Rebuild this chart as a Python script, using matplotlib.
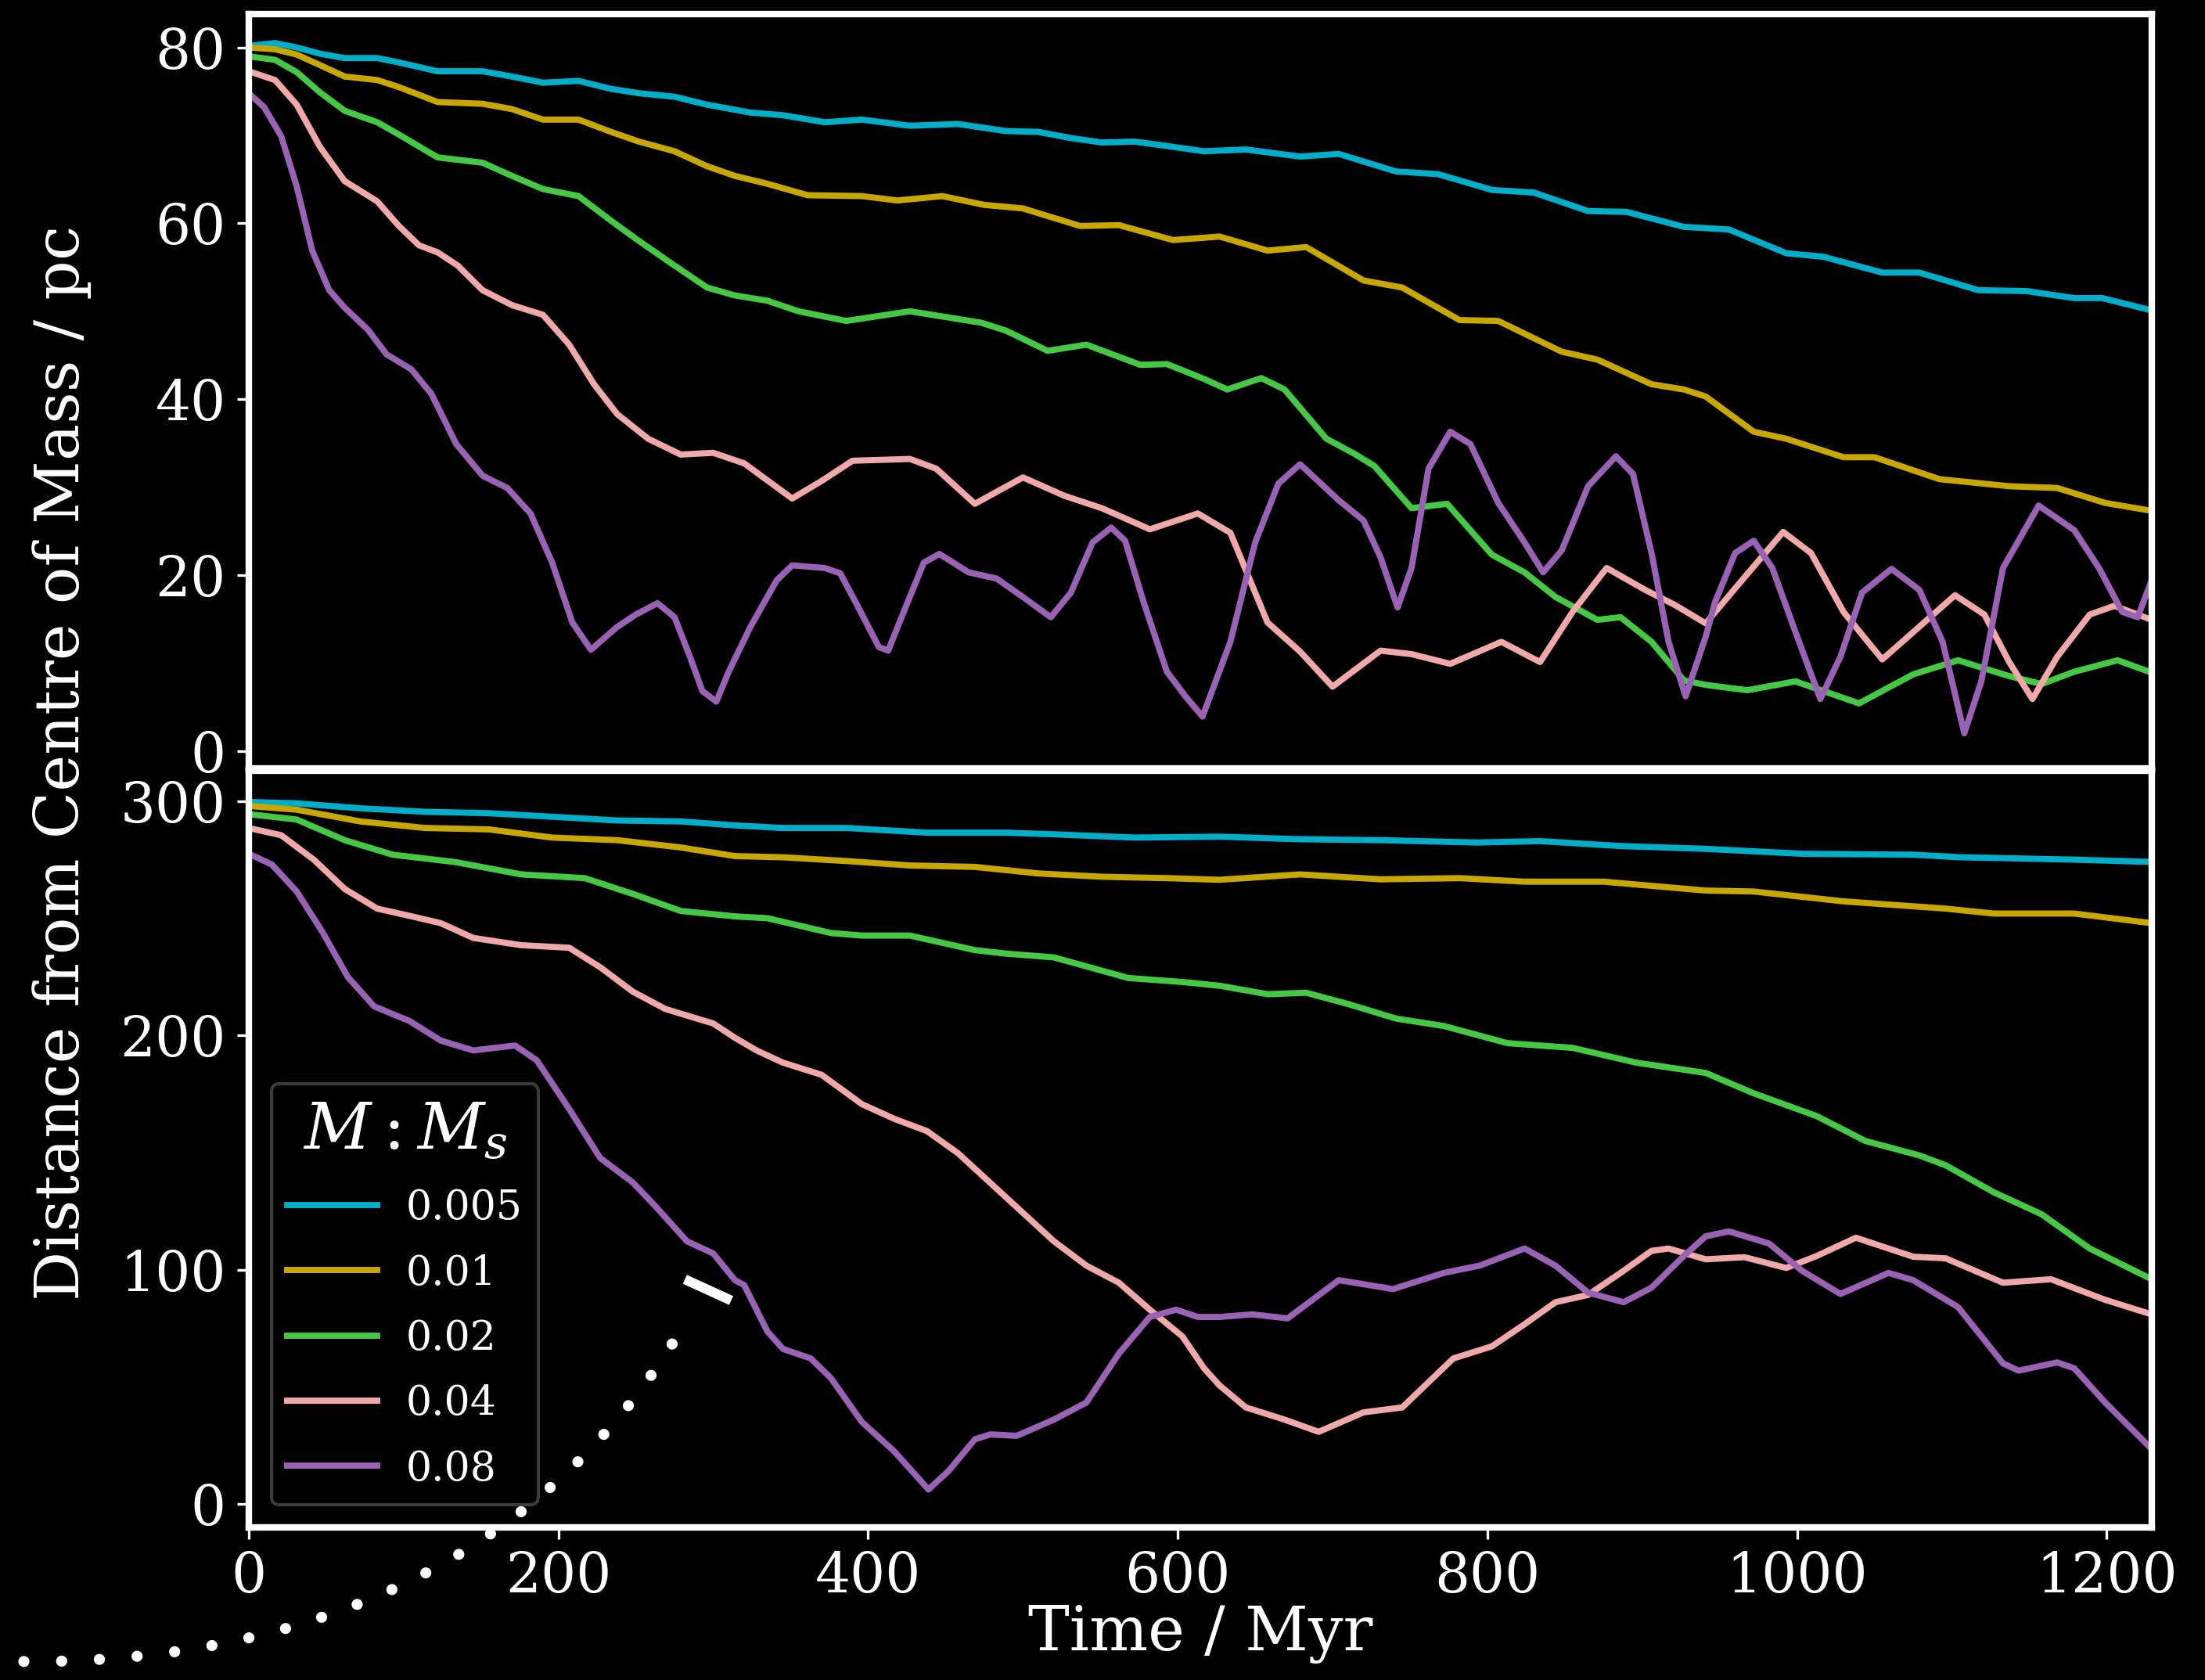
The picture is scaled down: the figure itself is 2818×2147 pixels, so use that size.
import matplotlib
matplotlib.use("Agg")
import matplotlib.pyplot as plt
from matplotlib.path import Path
from matplotlib.patches import PathPatch
from matplotlib.lines import Line2D

# --- data (time in Myr, distance in pc) ---
ratios = ["0.005", "0.01", "0.02", "0.04", "0.08"]
colours = ["#00aec9", "#c8a800", "#45c945", "#f0a8a8", "#9a62b4"]

# upper panel: start at ~80 pc
top_t_005 = [0, 17, 31, 46, 62, 83, 97, 122, 151, 170, 190, 213, 234, 252, 275, 296,
             324, 345, 372, 396, 427, 458, 489, 510, 531, 551, 572, 593, 617, 644, 679,
             704, 741, 768, 803, 830, 865, 890, 927, 956, 993, 1017, 1055, 1079, 1117,
             1148, 1179, 1197, 1229]
top_d_005 = [80.2, 80.5, 80.0, 79.3, 78.8, 78.8, 78.3, 77.3, 77.3, 76.7, 76.0, 76.2, 75.3,
             74.8, 74.4, 73.5, 72.6, 72.3, 71.5, 71.8, 71.1, 71.3, 70.5, 70.4, 69.7, 69.2,
             69.3, 68.8, 68.2, 68.4, 67.6, 67.9, 65.9, 65.6, 63.8, 63.5, 61.4, 61.3, 59.6,
             59.3, 56.6, 56.2, 54.4, 54.4, 52.4, 52.3, 51.5, 51.5, 50.1]

top_t_01 = [0, 17, 31, 46, 62, 83, 97, 122, 151, 170, 190, 213, 234, 252, 275, 296, 314,
            335, 361, 396, 419, 448, 475, 500, 537, 562, 597, 627, 658, 683, 720, 745,
            782, 807, 848, 871, 906, 927, 941, 972, 993, 1030, 1050, 1092, 1137, 1168,
            1199, 1229]
top_d_01 = [80.0, 79.8, 79.2, 78.0, 76.7, 76.3, 75.5, 73.8, 73.6, 73.0, 71.8, 71.8, 70.4,
            69.3, 68.2, 66.5, 65.4, 64.5, 63.2, 63.1, 62.6, 63.1, 62.1, 61.7, 59.7, 59.8,
            58.1, 58.5, 56.9, 57.3, 53.5, 52.7, 49.0, 48.9, 45.4, 44.5, 41.7, 41.1, 40.3,
            36.3, 35.5, 33.4, 33.4, 30.9, 30.1, 29.9, 28.2, 27.3]

top_t_02 = [0, 17, 31, 46, 62, 83, 97, 122, 151, 170, 190, 213, 234, 252, 275, 296, 314,
            335, 355, 386, 427, 473, 489, 516, 541, 576, 593, 617, 632, 654, 669, 696,
            714, 727, 751, 774, 803, 824, 844, 871, 886, 906, 927, 941, 968, 999, 1040,
            1075, 1104, 1137, 1158, 1179, 1207, 1229]
top_d_02 = [79.0, 78.6, 77.2, 74.9, 72.8, 71.5, 70.1, 67.5, 66.9, 65.4, 63.9, 63.1, 60.3,
            58.0, 55.2, 52.7, 51.8, 51.2, 50.0, 48.9, 50.0, 48.7, 47.8, 45.5, 46.2, 43.9,
            44.0, 42.3, 41.1, 42.4, 41.1, 35.5, 33.8, 32.4, 27.6, 28.1, 22.3, 20.3, 17.5,
            14.9, 15.2, 12.4, 8.0, 7.5, 6.9, 7.9, 5.4, 8.7, 10.3, 8.5, 7.6, 9.0, 10.3, 8.9]

top_t_04 = [0, 17, 31, 46, 62, 83, 97, 110, 122, 135, 151, 170, 190, 207, 223, 238, 258,
            279, 300, 320, 351, 370, 390, 427, 444, 469, 500, 527, 551, 582, 613, 634,
            658, 679, 700, 731, 751, 776, 809, 834, 855, 877, 902, 921, 941, 962, 991,
            1009, 1030, 1055, 1075, 1102, 1121, 1137, 1152, 1168, 1189, 1205, 1229]
top_d_04 = [77.3, 76.3, 73.5, 68.7, 64.8, 62.5, 59.7, 57.5, 56.7, 55.2, 52.4, 50.7, 49.6,
            46.2, 41.7, 38.3, 35.5, 33.7, 33.9, 32.7, 28.7, 30.7, 33.0, 33.2, 32.1, 28.1,
            31.1, 29.0, 27.6, 25.2, 27.0, 24.8, 14.6, 11.3, 7.3, 11.4, 11.0, 9.9, 12.4,
            10.1, 15.8, 20.8, 18.3, 16.6, 14.5, 18.9, 24.9, 22.5, 15.8, 10.4, 13.5, 17.7,
            15.5, 10.1, 5.9, 10.7, 15.5, 16.5, 14.9]

top_t_08 = [0, 10, 21, 31, 41, 52, 62, 77, 89, 105, 118, 134, 151, 167, 182, 196, 209,
            221, 238, 250, 264, 275, 285, 293, 302, 310, 324, 341, 351, 372, 382, 392,
            407, 413, 423, 436, 446, 465, 483, 500, 518, 531, 545, 557, 566, 578, 593,
            605, 616, 634, 650, 665, 679, 704, 720, 731, 742, 751, 762, 776, 789, 807,
            824, 836, 848, 865, 883, 894, 906, 917, 928, 941, 947, 960, 972, 984, 999,
            1015, 1028, 1042, 1061, 1079, 1094, 1108, 1119, 1133, 1156, 1179, 1195, 1210,
            1220, 1229]
top_d_08 = [74.8, 73.2, 69.9, 64.2, 56.9, 52.4, 50.4, 47.9, 45.1, 43.4, 40.6, 34.9, 31.3,
            29.9, 27.0, 21.4, 14.6, 11.5, 14.1, 15.5, 16.8, 15.2, 10.7, 6.8, 5.6, 9.0,
            14.1, 19.4, 21.1, 20.8, 20.2, 16.9, 11.8, 11.4, 15.8, 21.4, 22.4, 20.3, 19.6,
            17.5, 15.2, 18.0, 23.7, 25.4, 23.9, 16.9, 9.0, 6.2, 3.9, 12.4, 23.7, 30.4,
            32.6, 28.5, 26.2, 22.0, 16.3, 20.8, 32.1, 36.3, 34.9, 28.2, 23.7, 20.3, 22.8,
            30.1, 33.5, 31.5, 22.5, 12.4, 6.2, 13.0, 16.9, 22.5, 23.9, 20.8, 13.5, 5.9,
            10.7, 18.0, 20.7, 18.3, 12.4, 2.0, 7.9, 20.8, 27.9, 25.1, 20.8, 15.8, 15.2,
            19.4]

# lower panel: start at ~300 pc
bot_t_005 = [0, 31, 72, 114, 155, 196, 238, 279, 314, 345, 386, 438, 489, 520, 572, 627,
             679, 731, 793, 834, 886, 941, 1003, 1075, 1106, 1179, 1229]
bot_d_005 = [299.6, 299.0, 296.9, 295.4, 294.8, 293.3, 291.7, 291.3, 289.6, 288.5, 288.5,
             286.5, 286.5, 285.8, 284.4, 284.8, 283.7, 283.3, 282.3, 282.9, 280.8, 279.6,
             277.5, 277.1, 276.0, 275.0, 274.0]

bot_t_01 = [0, 31, 72, 114, 155, 196, 238, 279, 314, 345, 386, 427, 469, 510, 551, 593,
            627, 679, 731, 782, 824, 875, 941, 972, 1030, 1096, 1127, 1179, 1229]
bot_d_01 = [297.9, 296.3, 291.3, 288.5, 287.9, 284.4, 283.3, 280.2, 276.5, 276.0, 274.4,
            272.5, 271.9, 269.1, 267.7, 267.1, 266.4, 268.7, 266.6, 267.1, 265.6, 265.6,
            261.8, 261.4, 257.2, 254.1, 252.0, 252.0, 247.9]

bot_t_02 = [0, 31, 62, 93, 134, 176, 217, 248, 279, 314, 335, 376, 396, 427, 469, 489,
            520, 568, 603, 627, 658, 683, 710, 741, 772, 813, 855, 896, 941, 972, 1013,
            1044, 1079, 1096, 1127, 1158, 1189, 1229]
bot_d_02 = [294.4, 292.1, 283.3, 277.1, 273.9, 268.7, 267.1, 260.4, 253.1, 250.8, 250.0,
            243.7, 242.6, 242.6, 236.4, 234.9, 233.3, 224.5, 222.8, 221.2, 217.6, 218.2,
            213.4, 207.2, 204.0, 196.7, 194.7, 188.4, 184.0, 175.3, 165.5, 155.0, 148.8,
            144.6, 133.1, 123.7, 109.1, 96.0]

bot_t_04 = [0, 21, 42, 62, 83, 104, 124, 145, 176, 207, 227, 248, 269, 300, 314, 328,
            345, 370, 396, 417, 438, 458, 489, 520, 541, 562, 582, 603, 617, 627, 644,
            669, 691, 720, 745, 778, 803, 824, 844, 865, 886, 906, 917, 941, 966, 993,
            1013, 1038, 1075, 1096, 1133, 1164, 1199, 1229]
bot_d_04 = [288.5, 285.4, 275.0, 262.5, 254.1, 251.0, 247.9, 241.6, 238.5, 237.4, 229.1,
            218.7, 211.3, 205.1, 199.0, 193.6, 188.4, 183.2, 170.7, 164.4, 159.2, 149.8,
            131.0, 112.2, 101.8, 94.5, 83.0, 71.6, 58.0, 50.7, 41.3, 36.1, 30.9, 39.2,
            41.3, 62.2, 67.4, 76.8, 86.2, 89.3, 98.7, 108.1, 109.1, 104.5, 105.4, 100.8,
            106.0, 113.7, 105.6, 104.9, 94.5, 96.0, 87.2, 81.0]

bot_t_08 = [0, 15, 31, 48, 64, 81, 104, 124, 145, 172, 186, 207, 227, 248, 263, 283, 300,
            314, 320, 335, 345, 363, 376, 396, 417, 439, 452, 469, 479, 496, 520, 541,
            562, 582, 599, 613, 627, 648, 671, 704, 739, 772, 795, 824, 844, 865, 888,
            906, 927, 941, 956, 982, 1003, 1028, 1059, 1075, 1104, 1133, 1143, 1168,
            1179, 1199, 1229]
bot_d_08 = [277.5, 272.9, 261.4, 243.7, 224.9, 212.4, 206.1, 197.8, 193.6, 195.7, 189.4,
            168.6, 147.7, 137.3, 126.9, 112.2, 107.0, 95.6, 93.5, 73.7, 66.3, 62.2, 53.8,
            35.1, 22.5, 6.3, 14.2, 27.7, 29.8, 29.2, 36.1, 43.4, 64.3, 79.9, 83.0, 79.9,
            79.9, 81.0, 79.3, 95.6, 91.8, 98.7, 101.8, 109.1, 101.8, 90.3, 86.2, 92.4,
            106.0, 114.3, 116.4, 111.2, 99.7, 89.7, 98.7, 95.6, 84.1, 60.1, 57.0, 60.5,
            58.0, 43.4, 23.6]

top_series = [(top_t_005, top_d_005), (top_t_01, top_d_01), (top_t_02, top_d_02),
              (top_t_04, top_d_04), (top_t_08, top_d_08)]
bot_series = [(bot_t_005, bot_d_005), (bot_t_01, bot_d_01), (bot_t_02, bot_d_02),
              (bot_t_04, bot_d_04), (bot_t_08, bot_d_08)]

# --- style ---
plt.rcParams["font.family"] = ["DejaVu Serif"]
plt.rcParams["mathtext.fontset"] = "dejavuserif"
plt.rcParams["text.color"] = "white"
plt.rcParams["axes.labelcolor"] = "white"
plt.rcParams["xtick.color"] = "white"
plt.rcParams["ytick.color"] = "white"

fig = plt.figure(figsize=(2818 / 300, 2147 / 300), dpi=300, facecolor="black")
ax_top = fig.add_axes([0.1128, 0.5426, 0.8630, 0.4490])
ax_bot = fig.add_axes([0.1128, 0.0908, 0.8630, 0.4504], sharex=ax_top)

for ax in (ax_top, ax_bot):
    ax.set_facecolor("black")
    for sp in ax.spines.values():
        sp.set_color("white")
        sp.set_linewidth(2.0)
    ax.tick_params(labelsize=17, width=0.8, length=3.5, colors="white")

for (t, d), c, lab in zip(top_series, colours, ratios):
    ax_top.plot(t, d, color=c, lw=1.9, label=lab, solid_joinstyle="round")
for (t, d), c, lab in zip(bot_series, colours, ratios):
    ax_bot.plot(t, d, color=c, lw=1.9, label=lab, solid_joinstyle="round")

ax_top.set_xlim(0, 1229)
ax_top.set_ylim(-2.0, 83.8)
ax_bot.set_ylim(-9.9, 312.9)
ax_top.set_yticks([0, 20, 40, 60, 80])
ax_bot.set_yticks([0, 100, 200, 300])
ax_bot.set_xticks([0, 200, 400, 600, 800, 1000, 1200])
ax_top.tick_params(axis="x", bottom=False, labelbottom=False)

ax_bot.set_xlabel("Time / Myr", fontsize=19, labelpad=0)
fig.text(0.028, 0.546, "Distance from Centre of Mass / pc", rotation=90,
         ha="center", va="center", fontsize=19)

leg = ax_bot.legend(title=r"$M:M_s$", loc="lower left", fontsize=12.5, title_fontsize=20,
                    facecolor="black", edgecolor="#3a3a3a", framealpha=1,
                    borderaxespad=0.55, borderpad=0.4, labelspacing=0.62,
                    handlelength=2.2, handletextpad=0.7)
leg.get_frame().set_linewidth(1.0)

# white dotted swoosh and dash overlaid on the lower left (figure coords)
swoosh = Path([(0.0108, 0.0110), (0.1212, 0.0100), (0.2400, 0.0560), (0.3100, 0.2110)],
              [Path.MOVETO, Path.CURVE4, Path.CURVE4, Path.CURVE4])
fig.add_artist(PathPatch(swoosh, transform=fig.transFigure, fill=False, edgecolor="white",
                         lw=3.4, linestyle=(0, (0.01, 3.4)), capstyle="round"))
fig.add_artist(Line2D([0.3106, 0.3316], [0.2385, 0.2259], transform=fig.transFigure,
                      color="white", lw=3.0, solid_capstyle="butt"))

fig.savefig("out.png", dpi=300, facecolor="black")
